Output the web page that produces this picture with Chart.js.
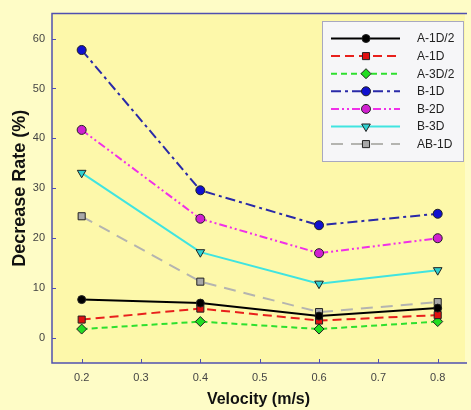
<!DOCTYPE html>
<html>
<head>
<meta charset="utf-8">
<script src="https://cdn.jsdelivr.net/npm/chart.js@4.4.1/dist/chart.umd.min.js"></script>
<style>
  html, body { margin: 0; padding: 0; background: #FEFCC6; }
  #wrap { width: 471px; height: 410px; position: relative; }
</style>
</head>
<body>
<div id="wrap"><canvas id="c" width="471" height="410"></canvas></div>
<script>
const velocities = [0.2, 0.4, 0.6, 0.8];
const xTicks = [0.2, 0.3, 0.4, 0.5, 0.6, 0.7, 0.8];
const yTicks = [0, 10, 20, 30, 40, 50, 60];
const seriesNames = ['A-1D/2', 'A-1D', 'A-3D/2', 'B-1D', 'B-2D', 'B-3D', 'AB-1D'];
const a1d2 = [7.7, 7.0, 4.4, 6.0];
const a1d  = [3.7, 5.9, 3.5, 4.6];
const a3d2 = [1.8, 3.3, 1.8, 3.3];
const b1d  = [57.7, 29.6, 22.6, 24.9];
const b2d  = [41.7, 23.9, 17.0, 20.0];
const b3d  = [33.1, 17.2, 10.9, 13.6];
const ab1d = [24.4, 11.3, 5.2, 7.2];

const seriesValues = [a1d2, a1d, a3d2, b1d, b2d, b3d, ab1d];
const styles = [
  {line: '#000000', fill: '#000000', dash: [], point: 'circle', r: 4, rot: 0},
  {line: '#E8201C', fill: '#E01010', dash: [9, 5], point: 'rect', r: 5, rot: 0},
  {line: '#2EE02E', fill: '#22DD22', dash: [6, 4], point: 'rectRot', r: 5, rot: 0},
  {line: '#2A2AA8', fill: '#1010D0', dash: [10, 4, 3, 4], point: 'circle', r: 4.5, rot: 0},
  {line: '#F030E8', fill: '#D020D0', dash: [8, 3, 2, 3, 2, 3], point: 'circle', r: 4.5, rot: 0},
  {line: '#40E4E0', fill: '#30D0D0', dash: [], point: 'triangle', r: 5, rot: 180},
  {line: '#B4B4B0', fill: '#A8A8A8', dash: [12, 8], point: 'rect', r: 5, rot: 0}
];

const datasets = seriesNames.map((name, i) => ({
  label: name,
  data: velocities.map((v, j) => ({x: v, y: seriesValues[i][j]})),
  borderColor: styles[i].line,
  borderWidth: 2,
  borderDash: styles[i].dash,
  pointStyle: styles[i].point,
  pointRadius: styles[i].r,
  pointRotation: styles[i].rot,
  pointBackgroundColor: styles[i].fill,
  pointBorderColor: '#222222',
  pointBorderWidth: 1,
  tension: 0,
  fill: false
}));

const axisColor = '#5050B0';

const framePlugin = {
  id: 'frame',
  beforeDatasetsDraw(chart) {
    const {ctx, chartArea: a} = chart;
    ctx.save();
    ctx.fillStyle = '#FDF8AA';
    ctx.fillRect(a.left, a.top, a.right - a.left, a.bottom - a.top);
    ctx.restore();
  },
  afterDatasetsDraw(chart) {
    const {ctx, chartArea: a, scales} = chart;
    ctx.save();
    ctx.strokeStyle = axisColor;
    ctx.lineWidth = 1.5;
    ctx.beginPath();
    ctx.moveTo(a.right + 2, a.top);
    ctx.lineTo(a.left, a.top);
    ctx.lineTo(a.left, a.bottom);
    ctx.lineTo(a.right + 2, a.bottom);
    ctx.stroke();
    ctx.lineWidth = 1;
    ctx.beginPath();
    yTicks.forEach(v => {
      const y = Math.round(scales.y.getPixelForValue(v)) + 0.5;
      ctx.moveTo(a.left, y); ctx.lineTo(a.left + 4, y);
    });
    xTicks.forEach(v => {
      const x = Math.round(scales.x.getPixelForValue(v)) + 0.5;
      ctx.moveTo(x, a.bottom); ctx.lineTo(x, a.bottom - 4);
    });
    ctx.stroke();
    ctx.restore();
  },
  afterDraw(chart) {
    const {ctx} = chart;
    const bx = 322, by = 21, bw = 141, bh = 140;
    ctx.save();
    ctx.fillStyle = '#F6F6F8';
    ctx.strokeStyle = '#A8A8C0';
    ctx.lineWidth = 1;
    ctx.fillRect(bx, by, bw, bh);
    ctx.strokeRect(bx + 0.5, by + 0.5, bw, bh);
    chart.data.datasets.forEach((ds, i) => {
      const y = 38.5 + i * 17.6;
      ctx.save();
      ctx.strokeStyle = ds.borderColor;
      ctx.lineWidth = 2;
      ctx.setLineDash(ds.borderDash);
      ctx.beginPath();
      ctx.moveTo(331, y); ctx.lineTo(400, y);
      ctx.stroke();
      ctx.restore();
      ctx.save();
      ctx.fillStyle = ds.pointBackgroundColor;
      ctx.strokeStyle = ds.pointBorderColor;
      ctx.lineWidth = 1;
      Chart.helpers.drawPoint(ctx, {pointStyle: ds.pointStyle, radius: ds.pointRadius, rotation: ds.pointRotation, borderWidth: 1}, 366, y);
      ctx.restore();
      ctx.fillStyle = '#222222';
      ctx.font = '12px "Liberation Sans", Arial, sans-serif';
      ctx.textBaseline = 'middle';
      ctx.textAlign = 'left';
      ctx.fillText(ds.label, 417, y + 0.5);
    });
    ctx.restore();
  }
};

new Chart(document.getElementById('c'), {
  type: 'line',
  data: {datasets},
  options: {
    responsive: false,
    animation: false,
    devicePixelRatio: 1,
    layout: {padding: {top: 8, right: 0, left: 0, bottom: 0}},
    plugins: {legend: {display: false}, tooltip: {enabled: false}},
    scales: {
      x: {
        type: 'linear',
        min: 0.15,
        max: 0.846,
        afterBuildTicks(scale) { scale.ticks = xTicks.map(v => ({value: v})); },
        afterFit(scale) { scale.height = 47; },
        grid: {display: false, drawTicks: false},
        border: {display: false},
        ticks: {
          padding: 8,
          color: '#444444',
          font: {size: 11, family: '"Liberation Sans", Arial, sans-serif'},
          callback: v => v.toFixed(1),
          maxRotation: 0,
          autoSkip: false
        },
        title: {
          display: true,
          text: 'Velocity (m/s)',
          color: '#111111',
          font: {size: 16, weight: 'bold', family: '"Liberation Sans", Arial, sans-serif'},
          padding: {top: 0, bottom: 1}
        }
      },
      y: {
        type: 'linear',
        min: -5,
        max: 65,
        afterBuildTicks(scale) { scale.ticks = yTicks.map(v => ({value: v})); },
        afterFit(scale) { scale.width = 52; },
        grid: {display: false, drawTicks: false},
        border: {display: false},
        ticks: {
          padding: 7,
          color: '#444444',
          font: {size: 11, family: '"Liberation Sans", Arial, sans-serif'},
          autoSkip: false
        },
        title: {
          display: true,
          text: 'Decrease Rate (%)',
          color: '#111111',
          font: {size: 18, weight: 'bold', family: '"Liberation Sans", Arial, sans-serif'},
          padding: {top: 9, bottom: 0}
        }
      }
    }
  },
  plugins: [framePlugin]
});
</script>
</body>
</html>
